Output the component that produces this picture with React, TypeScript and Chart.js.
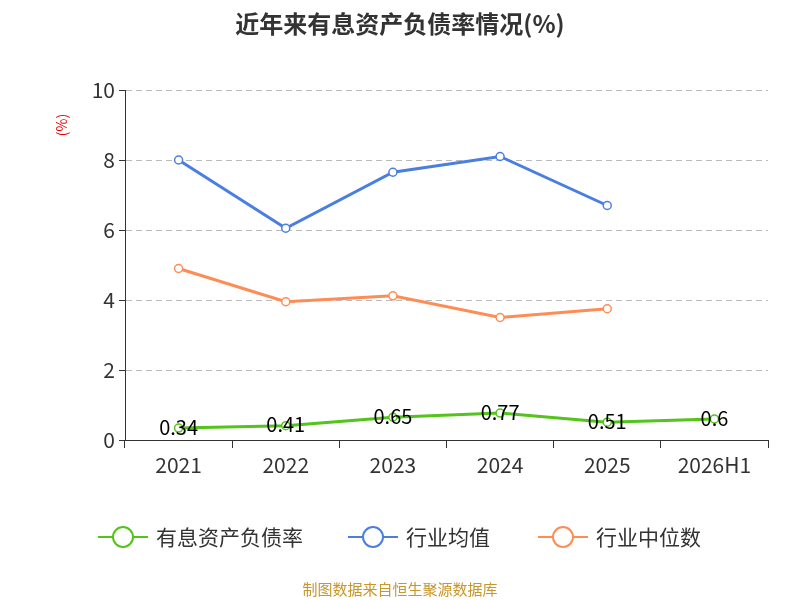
import React, { useEffect, useRef } from "react";
import Chart from "chart.js/auto";

const categories = ["2021", "2022", "2023", "2024", "2025", "2026H1"];
const debtRatio = [0.34, 0.41, 0.65, 0.77, 0.51, 0.6];
const industryAvg = [8.0, 6.05, 7.65, 8.1, 6.7, null];
const industryMedian = [4.9, 3.95, 4.12, 3.5, 3.75, null];
const yTicks = [0, 2, 4, 6, 8, 10];
const seriesNames = ["有息资产负债率", "行业均值", "行业中位数"];
const colors = ["#52c41a", "#4a7ee0", "#ff8c55"];

const FONT = "'Noto Sans CJK SC', 'Noto Sans', sans-serif";

export default function App() {
  const ref = useRef<HTMLCanvasElement>(null);
  useEffect(() => {
    const deco = {
      id: "deco",
      afterDraw(chart: any) {
        const ctx = chart.ctx;
        ctx.save();
        ctx.fillStyle = "#333";
        ctx.font = `bold 24px ${FONT}`;
        ctx.textAlign = "center";
        ctx.textBaseline = "middle";
        ctx.fillText("近年来有息资产负债率情况(%)", 400, 24);
        ctx.save();
        ctx.translate(62, 125);
        ctx.rotate(-Math.PI / 2);
        ctx.fillStyle = "#e00";
        ctx.font = `14px ${FONT}`;
        ctx.fillText("(%)", 0, 0);
        ctx.restore();
        const meta = chart.getDatasetMeta(0);
        ctx.fillStyle = "#000";
        ctx.font = `20px ${FONT}`;
        meta.data.forEach((p: any, i: number) => {
          ctx.fillText(String(debtRatio[i]), p.x, p.y - 1);
        });
        const xs = [98, 348, 538];
        ctx.font = `21px ${FONT}`;
        ctx.textAlign = "left";
        seriesNames.forEach((n, i) => {
          const x = xs[i], y = 537;
          ctx.strokeStyle = colors[i];
          ctx.lineWidth = 2;
          ctx.beginPath(); ctx.moveTo(x, y); ctx.lineTo(x + 50, y); ctx.stroke();
          ctx.beginPath(); ctx.arc(x + 25, y, 10, 0, Math.PI * 2);
          ctx.fillStyle = "#fff"; ctx.fill(); ctx.stroke();
          ctx.fillStyle = "#333";
          ctx.fillText(n, x + 58, y);
        });
        ctx.textAlign = "center";
        ctx.fillStyle = "#c8962a";
        ctx.font = `15px ${FONT}`;
        ctx.fillText("制图数据来自恒生聚源数据库", 400, 589);
        ctx.restore();
      },
    };
    const mk = (i: number, data: any[]) => ({
      label: seriesNames[i],
      data,
      borderColor: colors[i],
      backgroundColor: "#fff",
      borderWidth: 3,
      pointRadius: 4,
      pointBorderWidth: 1.5,
      pointBackgroundColor: "#fff",
      pointBorderColor: colors[i],
      tension: 0,
    });
    const chart = new Chart(ref.current!, {
      type: "line",
      data: {
        labels: categories,
        datasets: [mk(0, debtRatio), mk(1, industryAvg), mk(2, industryMedian)],
      },
      options: {
        animation: false,
        responsive: false,
        layout: { padding: { left: 60, right: 32, top: 90, bottom: 120 } },
        plugins: { legend: { display: false }, title: { display: false }, tooltip: { enabled: false } },
        scales: {
          x: {
            offset: true,
            grid: { display: true, drawOnChartArea: false, offset: true, tickLength: 8, tickColor: "#333" } as any,
            border: { color: "#333" },
            ticks: { color: "#333", font: { size: 21, family: FONT }, padding: 4 },
            afterFit: (s: any) => { s.height = 40; },
          },
          y: {
            min: 0, max: 10,
            afterBuildTicks: (s: any) => { s.ticks = yTicks.map((v) => ({ value: v })); },
            grid: { color: "#bbb", tickLength: 6, tickColor: "#333" } as any,
            border: { color: "#333", dash: [6, 4] } as any,
            ticks: { color: "#333", font: { size: 21, family: FONT }, padding: 4 },
            afterFit: (s: any) => { s.width = 65; },
          },
        },
      },
      plugins: [deco],
    });
    return () => chart.destroy();
  }, []);
  return (
    <div style={{ position: "fixed", left: 0, top: 0, width: 800, height: 600, background: "#fff" }}>
      <canvas ref={ref} width={800} height={600} />
    </div>
  );
}
